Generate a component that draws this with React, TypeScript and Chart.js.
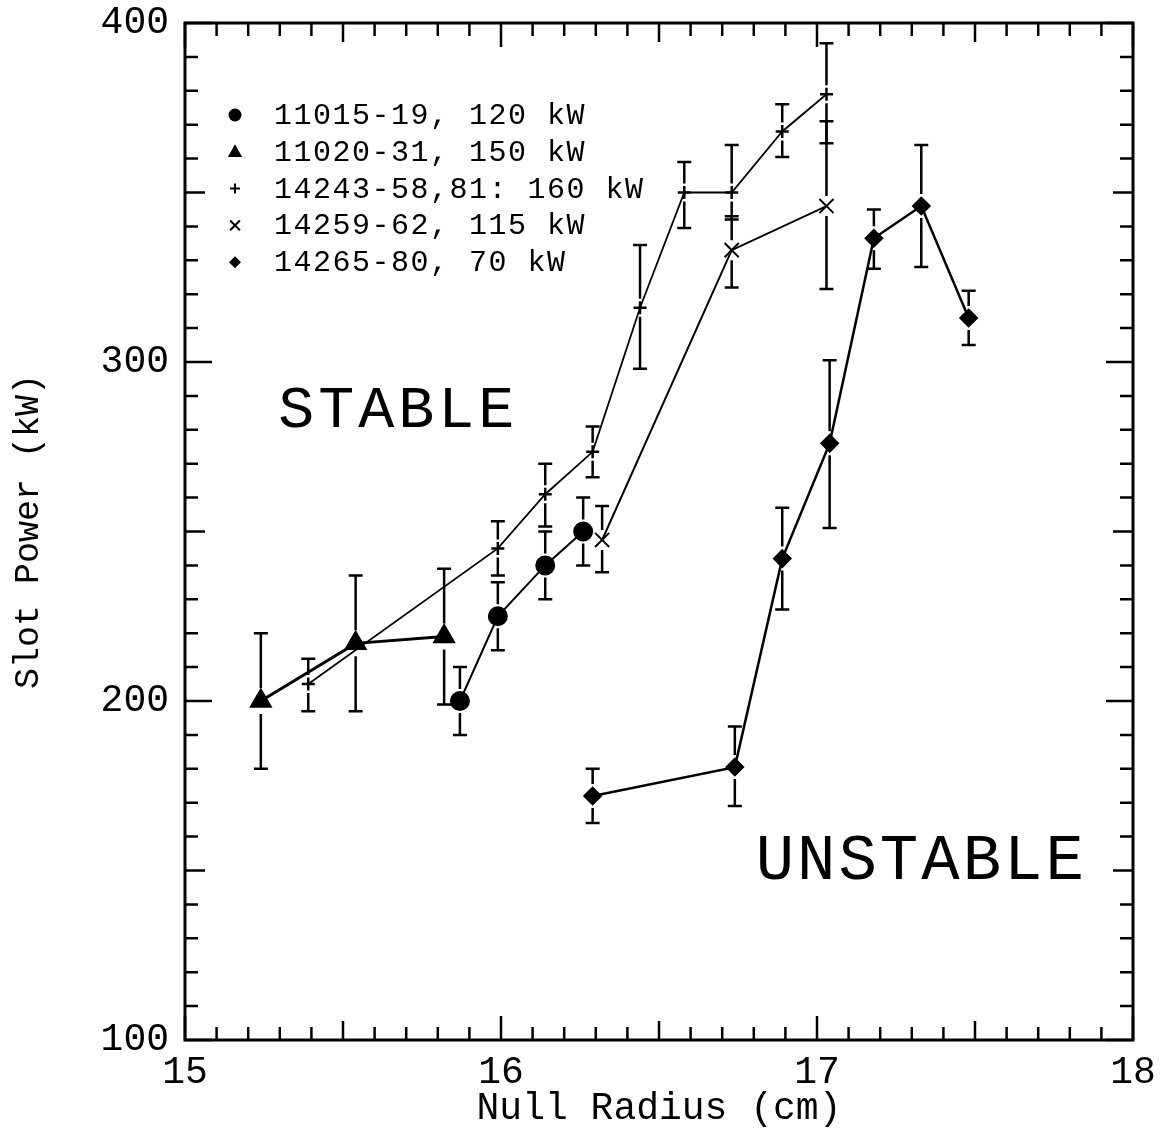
import React, { useEffect, useRef } from "react";
import { Chart, registerables } from "chart.js";

Chart.register(...registerables);

// ---- data ----
const xTicks = [15, 16, 17, 18];
const yTicks = [100, 200, 300, 400];

const seriesLabels = [
  "11015-19, 120 kW",
  "11020-31, 150 kW",
  "14243-58,81: 160 kW",
  "14259-62, 115 kW",
  "14265-80, 70 kW",
];

const circleX = [15.87, 15.99, 16.14, 16.26];
const circleY = [200, 225, 240, 250];
const circleHi = [210, 235, 250, 260];
const circleLo = [190, 215, 230, 240];

const triX = [15.24, 15.54, 15.82];
const triY = [200, 217, 219];
const triHi = [220, 237, 239];
const triLo = [180, 197, 199];

const plusX = [15.39, 15.99, 16.14, 16.29, 16.44, 16.58, 16.73, 16.89, 17.03];
const plusY = [205, 245, 261, 273.5, 316, 350, 350, 368, 379];
const plusHi = [212.5, 253, 270, 281, 334.5, 359, 364, 376, 394];
const plusLo = [197, 237, 251.5, 266, 298, 339.5, 342, 360.5, 364.5];

const crossX = [16.32, 16.73, 17.03];
const crossY = [247.5, 333, 346];
const crossHi = [257.5, 343, 371];
const crossLo = [238, 322, 321.5];

const diaX = [16.29, 16.74, 16.89, 17.04, 17.18, 17.33, 17.48];
const diaY = [172, 180.5, 242, 276, 336.5, 346, 313];
const diaHi = [180, 192.5, 257, 300.5, 345, 364, 321];
const diaLo = [164, 169, 227, 251, 327.5, 328, 305];

const regionLabels = ["STABLE", "UNSTABLE"];

const FONT = '"Liberation Mono", "DejaVu Sans Mono", monospace';

function pts(xs: number[], ys: number[]) {
  return xs.map((x, i) => ({ x, y: ys[i] }));
}

function drawMarker(ctx: CanvasRenderingContext2D, style: string, x: number, y: number, r: number) {
  ctx.save();
  ctx.fillStyle = "#000";
  ctx.strokeStyle = "#000";
  ctx.lineWidth = 2;
  ctx.beginPath();
  if (style === "circle") {
    ctx.arc(x, y, r, 0, Math.PI * 2);
    ctx.fill();
  } else if (style === "triangle") {
    ctx.moveTo(x, y - r);
    ctx.lineTo(x + r * 0.95, y + r * 0.7);
    ctx.lineTo(x - r * 0.95, y + r * 0.7);
    ctx.closePath();
    ctx.fill();
  } else if (style === "cross") {
    ctx.moveTo(x - r, y);
    ctx.lineTo(x + r, y);
    ctx.moveTo(x, y - r);
    ctx.lineTo(x, y + r);
    ctx.stroke();
  } else if (style === "crossRot") {
    const d = r * 0.75;
    ctx.moveTo(x - d, y - d);
    ctx.lineTo(x + d, y + d);
    ctx.moveTo(x + d, y - d);
    ctx.lineTo(x - d, y + d);
    ctx.stroke();
  } else if (style === "rectRot") {
    ctx.moveTo(x, y - r);
    ctx.lineTo(x + r, y);
    ctx.lineTo(x, y + r);
    ctx.lineTo(x - r, y);
    ctx.closePath();
    ctx.fill();
  }
  ctx.restore();
}

const framePlugin = {
  id: "frameTicks",
  afterDraw(chart: any) {
    const ctx = chart.ctx as CanvasRenderingContext2D;
    const { left, right, top, bottom } = chart.chartArea;
    const xs = chart.scales.x;
    const ys = chart.scales.y;
    ctx.save();
    ctx.strokeStyle = "#000";
    ctx.lineWidth = 3;
    ctx.strokeRect(left, top, right - left, bottom - top);
    ctx.lineWidth = 2.5;
    ctx.beginPath();
    for (let i = 0; i <= 30; i++) {
      const v = xs.min + i * 0.1;
      const px = xs.getPixelForValue(v);
      const len = i % 10 === 0 ? 24 : i % 5 === 0 ? 19 : 13;
      ctx.moveTo(px, bottom);
      ctx.lineTo(px, bottom - len);
      ctx.moveTo(px, top);
      ctx.lineTo(px, top + len);
    }
    for (let i = 0; i <= 30; i++) {
      const v = ys.min + i * 10;
      const py = ys.getPixelForValue(v);
      const len = i % 10 === 0 ? 27 : i % 5 === 0 ? 20 : 13;
      ctx.moveTo(left, py);
      ctx.lineTo(left + len, py);
      ctx.moveTo(right, py);
      ctx.lineTo(right - len, py);
    }
    ctx.stroke();
    ctx.restore();
  },
};

const errorBarPlugin = {
  id: "errorBars",
  afterDatasetsDraw(chart: any) {
    const ctx = chart.ctx as CanvasRenderingContext2D;
    const xs = chart.scales.x;
    const ys = chart.scales.y;
    ctx.save();
    ctx.strokeStyle = "#000";
    ctx.lineWidth = 2.5;
    chart.data.datasets.forEach((ds: any) => {
      const gap = ds.errGap || 10;
      ds.data.forEach((p: any, i: number) => {
        const px = xs.getPixelForValue(p.x);
        const py = ys.getPixelForValue(p.y);
        const hi = ys.getPixelForValue(ds.errHi[i]);
        const lo = ys.getPixelForValue(ds.errLo[i]);
        const cap = 7;
        ctx.beginPath();
        ctx.moveTo(px - cap, hi);
        ctx.lineTo(px + cap, hi);
        if (py - gap > hi) {
          ctx.moveTo(px, hi);
          ctx.lineTo(px, py - gap);
        }
        ctx.moveTo(px - cap, lo);
        ctx.lineTo(px + cap, lo);
        if (py + gap < lo) {
          ctx.moveTo(px, lo);
          ctx.lineTo(px, py + gap);
        }
        ctx.stroke();
      });
    });
    ctx.restore();
  },
};

const annotationPlugin = {
  id: "annotations",
  afterDraw(chart: any) {
    const ctx = chart.ctx as CanvasRenderingContext2D;
    const xs = chart.scales.x;
    const ys = chart.scales.y;
    ctx.save();
    ctx.fillStyle = "#000";
    ctx.textAlign = "center";
    ctx.textBaseline = "middle";
    ctx.font = `60px ${FONT}`;
    (ctx as any).letterSpacing = "4px";
    ctx.fillText(regionLabels[0], xs.getPixelForValue(15.675), ys.getPixelForValue(285.5));
    ctx.font = `64px ${FONT}`;
    (ctx as any).letterSpacing = "3px";
    ctx.fillText(regionLabels[1], xs.getPixelForValue(17.33), ys.getPixelForValue(152.5));

    // legend
    const styles = ["circle", "triangle", "cross", "crossRot", "rectRot"];
    const sizes = [6.5, 7.5, 5, 6.5, 6];
    ctx.font = `30px ${FONT}`;
    (ctx as any).letterSpacing = "1.5px";
    ctx.textAlign = "left";
    chart.data.datasets.forEach((ds: any, i: number) => {
      const y = chart.chartArea.top + 92 + i * 36.8;
      drawMarker(ctx, styles[i], chart.chartArea.left + 50, y, sizes[i]);
      ctx.fillText(ds.label, chart.chartArea.left + 89, y + 1);
    });
    ctx.restore();
  },
};

export default function App() {
  const ref = useRef<HTMLCanvasElement | null>(null);

  useEffect(() => {
    document.body.style.margin = "0";
    const canvas = ref.current;
    if (!canvas) return;
    const common = {
      borderColor: "#000",
      backgroundColor: "#000",
      pointBackgroundColor: "#000",
      pointBorderColor: "#000",
      fill: false,
      tension: 0,
    };
    const chart = new Chart(canvas, {
      type: "line",
      data: {
        datasets: [
          {
            ...common,
            label: seriesLabels[0],
            data: pts(circleX, circleY),
            errHi: circleHi,
            errLo: circleLo,
            errGap: 12,
            pointStyle: "circle",
            pointRadius: 9,
            borderWidth: 2,
          },
          {
            ...common,
            label: seriesLabels[1],
            data: pts(triX, triY),
            errHi: triHi,
            errLo: triLo,
            errGap: 13,
            pointStyle: "triangle",
            pointRadius: 10.5,
            borderWidth: 3,
          },
          {
            ...common,
            label: seriesLabels[2],
            data: pts(plusX, plusY),
            errHi: plusHi,
            errLo: plusLo,
            errGap: 9,
            pointStyle: "cross",
            pointRadius: 6.5,
            pointBorderWidth: 2.5,
            borderWidth: 1.8,
          },
          {
            ...common,
            label: seriesLabels[3],
            data: pts(crossX, crossY),
            errHi: crossHi,
            errLo: crossLo,
            errGap: 10,
            pointStyle: "crossRot",
            pointRadius: 10,
            pointBorderWidth: 2,
            borderWidth: 2,
          },
          {
            ...common,
            label: seriesLabels[4],
            data: pts(diaX, diaY),
            errHi: diaHi,
            errLo: diaLo,
            errGap: 12,
            pointStyle: "rectRot",
            pointRadius: 8,
            borderWidth: 2.5,
          },
        ] as any,
      },
      options: {
        animation: false,
        responsive: false,
        layout: { padding: { top: 23, right: 30, left: 0, bottom: 0 } },
        plugins: { legend: { display: false }, tooltip: { enabled: false } },
        scales: {
          x: {
            type: "linear",
            min: 15,
            max: 18,
            afterFit: (s: any) => {
              s.height = 94;
              s.paddingLeft = 0;
              s.paddingRight = 0;
            },
            afterBuildTicks: (s: any) => {
              s.ticks = xTicks.map((v) => ({ value: v }));
            },
            grid: { display: false, drawTicks: false },
            border: { display: false },
            ticks: {
              color: "#000",
              padding: 10,
              font: { family: FONT, size: 38 },
              maxRotation: 0,
            },
            title: {
              display: true,
              text: "Null Radius (cm)",
              color: "#000",
              font: { family: FONT, size: 38 },
              padding: { top: 0, bottom: 2 },
            },
          },
          y: {
            type: "linear",
            min: 100,
            max: 400,
            afterFit: (s: any) => {
              s.width = 185;
              s.paddingTop = 0;
              s.paddingBottom = 0;
            },
            afterBuildTicks: (s: any) => {
              s.ticks = yTicks.map((v) => ({ value: v }));
            },
            grid: { display: false, drawTicks: false },
            border: { display: false },
            ticks: {
              color: "#000",
              padding: 16,
              font: { family: FONT, size: 38 },
            },
            title: {
              display: true,
              text: "Slot Power (kW)",
              color: "#000",
              font: { family: FONT, size: 35 },
              padding: 8,
            },
          },
        },
      } as any,
      plugins: [framePlugin, errorBarPlugin, annotationPlugin],
    });
    return () => chart.destroy();
  }, []);

  return (
    <div style={{ width: 1163, height: 1134 }}>
      <canvas ref={ref} width={1163} height={1134} style={{ display: "block" }} />
    </div>
  );
}
